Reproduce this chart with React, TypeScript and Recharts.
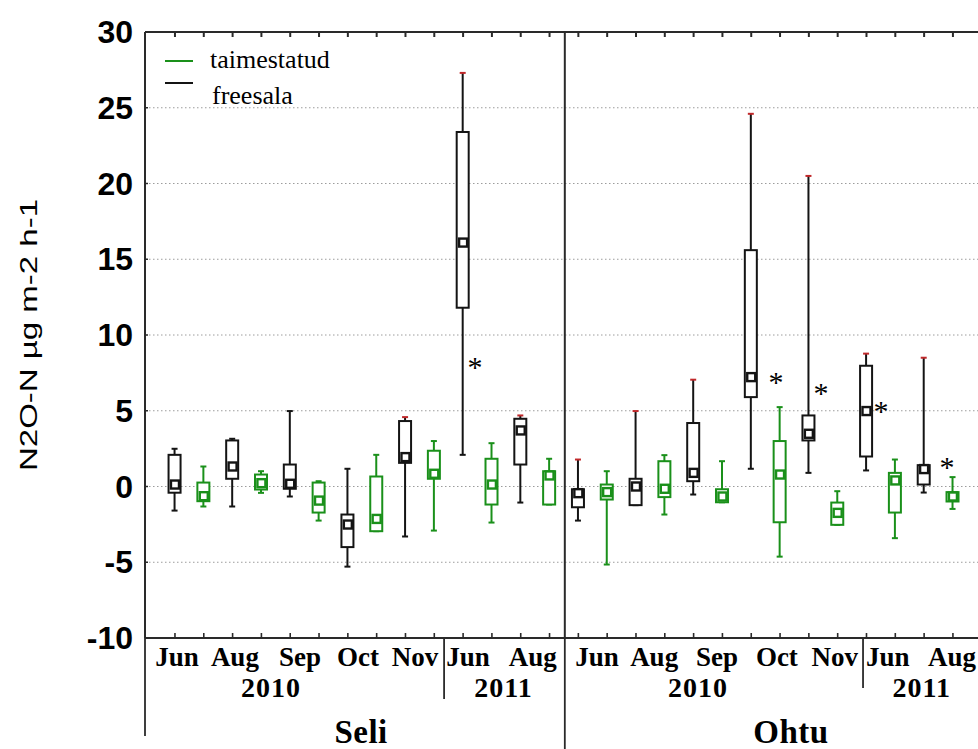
import React from 'react';
import {
  ComposedChart,
  Bar,
  Scatter,
  XAxis,
  YAxis,
  CartesianGrid,
  ReferenceLine,
  Label,
} from 'recharts';

// ---------- data ----------
const panels = ['Seli', 'Ohtu'];
const monthNames = ['Jun', 'Aug', 'Sep', 'Oct', 'Nov', 'Jun', 'Aug'];
const yTicks = [-10, -5, 0, 5, 10, 15, 20, 25, 30];
const yTop = 30;
const yBottom = -10;

// freesala (black): Seli Jun..Aug2011, then Ohtu Jun..Aug2011
const freesalaMax = [2.49, 3.15, 4.98, 1.17, 4.58, 27.3, 4.69, 1.78, 4.98, 7.05, 24.6, 20.5, 8.77, 8.5];
const freesalaQ3 = [2.09, 3.04, 1.45, -1.85, 4.32, 23.4, 4.47, -0.18, 0.51, 4.19, 15.6, 4.69, 7.97, 1.41];
const freesalaMedian = [0.13, 1.32, 0.18, -2.51, 1.94, 16.1, 3.7, -0.44, 0.0, 0.9, 7.22, 3.48, 4.98, 1.15];
const freesalaQ1 = [-0.41, 0.51, -0.15, -4.0, 1.56, 11.8, 1.45, -1.37, -1.23, 0.35, 5.9, 3.04, 1.98, 0.13];
const freesalaMin = [-1.59, -1.32, -0.66, -5.29, -3.3, 2.09, -1.06, -2.25, -1.23, -0.53, 1.17, 0.9, 1.06, -0.4];
const freesalaExtreme = [false, false, false, false, true, true, true, true, true, true, true, true, true, true];

// taimestatud (green)
const taimMax = [1.32, 1.01, 0.35, 2.09, 3.0, 2.86, 1.83, 1.01, 2.07, 1.67, 5.24, -0.31, 1.78, 0.62];
const taimQ3 = [0.26, 0.79, 0.26, 0.66, 2.36, 1.83, 1.01, 0.13, 1.67, -0.18, 3.0, -1.06, 0.9, -0.37];
const taimMedian = [-0.64, 0.22, -0.93, -2.14, 0.84, 0.13, 0.73, -0.37, -0.15, -0.66, 0.79, -1.74, 0.4, -0.66];
const taimQ1 = [-0.97, -0.2, -1.72, -2.95, 0.51, -1.19, -1.19, -0.86, -0.7, -1.04, -2.36, -2.53, -1.72, -0.99];
const taimMin = [-1.32, -0.42, -2.25, -2.95, -2.91, -2.38, -1.19, -5.15, -1.85, -1.04, -4.63, -2.53, -3.41, -1.48];

// category positions (box index units)
const monthLabelPos = [0.07, 2.08, 4.34, 6.35, 8.33, 10.17, 12.42, 14.65, 16.63, 18.81, 20.89, 22.9, 24.74, 26.97];
const yearLabels = ['2010', '2011', '2010', '2011'];
const yearLabelPos = [3.33, 11.4, 18.15, 25.92];
const panelLabelPos = [6.46, 21.38];
const separatorPos = [-1.04, 9.34, 13.53, 23.88];
const dividerPos = 13.53;

// significance asterisks
const asteriskX = [10.41, 20.86, 22.42, 24.5, 26.79];
const asteriskY = [8.18, 7.15, 6.43, 5.26, 1.56];

const legendItems = [
  { label: 'taimestatud', group: 'taimestatud' },
  { label: 'freesala', group: 'freesala' },
];

// ---------- derived tables ----------
type Row = {
  x: number;
  group: string;
  min: number;
  q1: number;
  median: number;
  q3: number;
  max: number;
  extreme: boolean;
};

const rows: Row[] = [];
panels.forEach((_, p) => {
  monthNames.forEach((__, m) => {
    const k = p * monthNames.length + m;
    const base = p * monthNames.length * 2 + m * 2;
    rows.push({
      x: base,
      group: 'freesala',
      min: freesalaMin[k],
      q1: freesalaQ1[k],
      median: freesalaMedian[k],
      q3: freesalaQ3[k],
      max: freesalaMax[k],
      extreme: freesalaExtreme[k],
    });
    rows.push({
      x: base + 1,
      group: 'taimestatud',
      min: taimMin[k],
      q1: taimQ1[k],
      median: taimMedian[k],
      q3: taimQ3[k],
      max: taimMax[k],
      extreme: false,
    });
  });
});

const monthLabels = [...monthNames, ...monthNames];
const asterisks = asteriskX.map((x, i) => ({ x, y: asteriskY[i] }));
const topTickMarks = rows.map((r) => ({ x: r.x, y: yTop }));
const bottomTickMarks = rows.map((r) => ({ x: r.x, y: yBottom }));

type LabelTick = { pos: number; kind: 'month' | 'year' | 'panel' | 'sep'; text: string; i: number };
const labelTicks: LabelTick[] = [
  ...monthLabelPos.map((pos, i) => ({ pos, kind: 'month' as const, text: monthLabels[i], i })),
  ...yearLabelPos.map((pos, i) => ({ pos, kind: 'year' as const, text: yearLabels[i], i })),
  ...panelLabelPos.map((pos, i) => ({ pos, kind: 'panel' as const, text: panels[i], i })),
  ...separatorPos.map((pos, i) => ({ pos, kind: 'sep' as const, text: '', i })),
];
const labelTickValues = labelTicks.map((t) => t.pos);

// ---------- styles ----------
const X_DOMAIN: [number, number] = [-1.04, 27.87];
const GREEN = '#1a901a';
const BLACK = '#141414';
const RED = '#c0282a';
const AXIS = '#2a2a2a';
const SERIF = '"Liberation Serif", "Times New Roman", serif';
const SANS = '"Liberation Sans", Arial, sans-serif';
const separatorDrop = [98, 61, 112, 50];
const LABEL_SHIFT = 30; // recharts places the tick anchor this far under the label axis

const colorOf = (g: string) => (g === 'taimestatud' ? GREEN : BLACK);

// ---------- shapes ----------
const WhiskerShape = (props: any) => {
  const { x, y, width, height, payload } = props;
  if (x == null || y == null) return null;
  const top = Math.min(y, y + height);
  const bottom = Math.max(y, y + height);
  const cx = x + width / 2;
  const c = colorOf(payload.group);
  const capTop = payload.extreme ? RED : c;
  return (
    <g>
      <line x1={cx} x2={cx} y1={top} y2={bottom} stroke={c} strokeWidth={2} />
      <line x1={cx - 3} x2={cx + 3} y1={top} y2={top} stroke={capTop} strokeWidth={2} />
      <line x1={cx - 3} x2={cx + 3} y1={bottom} y2={bottom} stroke={c} strokeWidth={2} />
    </g>
  );
};

const BoxShape = (props: any) => {
  const { x, y, width, height, payload } = props;
  if (x == null || y == null) return null;
  const top = Math.min(y, y + height);
  const h = Math.abs(height);
  return (
    <rect x={x} y={top} width={width} height={h} fill="#fff" stroke={colorOf(payload.group)} strokeWidth={2} />
  );
};

const MedianShape = (props: any) => {
  const { cx, cy, payload } = props;
  if (cx == null || cy == null) return null;
  return (
    <rect x={cx - 4} y={cy - 4} width={8} height={8} fill="#fff" stroke={colorOf(payload.group)} strokeWidth={2.4} />
  );
};

const AsteriskShape = (props: any) => {
  const { cx, cy } = props;
  if (cx == null || cy == null) return null;
  return (
    <text x={cx} y={cy + 14} textAnchor="middle" fontFamily={SERIF} fontSize={30} fill="#000">
      *
    </text>
  );
};

const TopTickShape = (props: any) => {
  const { cx, cy } = props;
  if (cx == null || cy == null) return null;
  return <line x1={cx} x2={cx} y1={cy} y2={cy + 5} stroke={AXIS} strokeWidth={2} />;
};

const BottomTickShape = (props: any) => {
  const { cx, cy } = props;
  if (cx == null || cy == null) return null;
  return <line x1={cx} x2={cx} y1={cy} y2={cy - 5} stroke={AXIS} strokeWidth={1.6} />;
};

// ---------- ticks ----------
const YTick = (props: any) => {
  const { x, y, payload } = props;
  return (
    <g>
      <text x={x} y={y} textAnchor="end" dominantBaseline="central" fontFamily={SANS} fontWeight="bold" fontSize={32} fill="#000">
        {payload.value}
      </text>
      <line x1={x + 12} x2={x + 15} y1={y} y2={y} stroke={AXIS} strokeWidth={1.5} />
    </g>
  );
};

// draws month / year / panel labels and the separator lines below the axis
const BottomLabelTick = (props: any) => {
  const { x, y, payload } = props;
  const t = labelTicks.find((l) => Math.abs(l.pos - payload.value) < 1e-6);
  if (!t) return null;
  const base = y - LABEL_SHIFT;
  if (t.kind === 'sep') {
    return <line x1={x} x2={x} y1={base} y2={base + separatorDrop[t.i]} stroke={AXIS} strokeWidth={1.8} />;
  }
  if (t.kind === 'month') {
    return (
      <text x={x} y={base + 28} textAnchor="middle" fontFamily={SERIF} fontWeight="bold" fontSize={27} fill="#000">
        {t.text}
      </text>
    );
  }
  if (t.kind === 'year') {
    return (
      <text x={x} y={base + 59} textAnchor="middle" fontFamily={SERIF} fontWeight="bold" fontSize={28} letterSpacing={1} fill="#000">
        {t.text}
      </text>
    );
  }
  return (
    <text x={x} y={base + 105} textAnchor="middle" fontFamily={SERIF} fontWeight="bold" fontSize={33} letterSpacing={0.5} fill="#000">
      {t.text}
    </text>
  );
};

const YTitle = (props: any) => {
  const vb = props.viewBox || { x: 25, y: 32, width: 120, height: 605 };
  const cx = vb.x + 3;
  const cy = vb.y + vb.height / 2;
  return (
    <text
      x={cx}
      y={cy}
      transform={`rotate(-90 ${cx} ${cy})`}
      textAnchor="middle"
      dominantBaseline="central"
      fontFamily={SANS}
      fontSize={24}
      textLength={272}
      lengthAdjust="spacingAndGlyphs"
      fill="#000"
    >
      N2O-N µg m-2 h-1
    </text>
  );
};

const axisLineStyle = { stroke: AXIS, strokeWidth: 2 };

export default function App() {
  return (
    <div style={{ position: 'absolute', left: 0, top: 0, width: 978, height: 749, overflow: 'hidden', background: '#fff' }}>
      <ComposedChart width={978} height={749} data={rows} margin={{ top: 31, right: 0, bottom: 110, left: 25 }}>
        <XAxis
          xAxisId="top"
          orientation="top"
          type="number"
          dataKey="x"
          domain={X_DOMAIN}
          allowDataOverflow
          height={1}
          tick={false}
          tickLine={false}
          axisLine={axisLineStyle}
        />
        <XAxis
          xAxisId="b"
          type="number"
          dataKey="x"
          domain={X_DOMAIN}
          allowDataOverflow
          mirror
          height={1}
          tick={false}
          tickLine={false}
          axisLine={axisLineStyle}
        />
        <XAxis
          xAxisId="labels"
          type="number"
          dataKey="x"
          domain={X_DOMAIN}
          allowDataOverflow
          ticks={labelTickValues}
          interval={0}
          height={1}
          axisLine={false}
          tickLine={false}
          tickSize={0}
          tickMargin={0}
          tick={(p: any) => <BottomLabelTick {...p} />}
        />
        <YAxis
          type="number"
          domain={[yBottom, yTop]}
          ticks={yTicks}
          interval={0}
          width={120}
          tickSize={0}
          tickMargin={12}
          axisLine={axisLineStyle}
          tickLine={false}
          tick={(p: any) => <YTick {...p} />}
        >
          <Label content={(p: any) => <YTitle {...p} />} />
        </YAxis>
        <XAxis xAxisId="w" type="number" dataKey="x" domain={X_DOMAIN} allowDataOverflow hide />
        <XAxis xAxisId="ast" type="number" dataKey="x" domain={X_DOMAIN} allowDataOverflow hide />
        <CartesianGrid xAxisId="b" vertical={false} stroke="#9c9c9c" strokeDasharray="1.5 2.5" />
        <ReferenceLine xAxisId="b" x={dividerPos} stroke={AXIS} strokeWidth={2} />
        <Bar
          xAxisId="w"
          dataKey={(r: Row) => [r.min, r.max]}
          barSize={8}
          shape={(p: any) => <WhiskerShape {...p} />}
          isAnimationActive={false}
        />
        <Bar
          xAxisId="b"
          dataKey={(r: Row) => [r.q1, r.q3]}
          barSize={12}
          shape={(p: any) => <BoxShape {...p} />}
          isAnimationActive={false}
        />
        <Scatter xAxisId="b" dataKey="median" shape={(p: any) => <MedianShape {...p} />} isAnimationActive={false} />
        <Scatter xAxisId="ast" data={asterisks} dataKey="y" shape={(p: any) => <AsteriskShape {...p} />} isAnimationActive={false} />
        <Scatter xAxisId="ast" data={topTickMarks} dataKey="y" shape={(p: any) => <TopTickShape {...p} />} isAnimationActive={false} />
        <Scatter xAxisId="ast" data={bottomTickMarks} dataKey="y" shape={(p: any) => <BottomTickShape {...p} />} isAnimationActive={false} />
      </ComposedChart>
      <svg width={978} height={749} style={{ position: 'absolute', left: 0, top: 0, pointerEvents: 'none' }}>
        {legendItems.map((item, i) => (
          <g key={item.label}>
            <line x1={165} x2={193} y1={i === 0 ? 61 : 83} y2={i === 0 ? 61 : 83} stroke={colorOf(item.group)} strokeWidth={2} />
            <text x={i === 0 ? 210 : 212} y={i === 0 ? 68 : 104} fontFamily={SERIF} fontSize={26} fill="#000">
              {item.label}
            </text>
          </g>
        ))}
      </svg>
    </div>
  );
}
